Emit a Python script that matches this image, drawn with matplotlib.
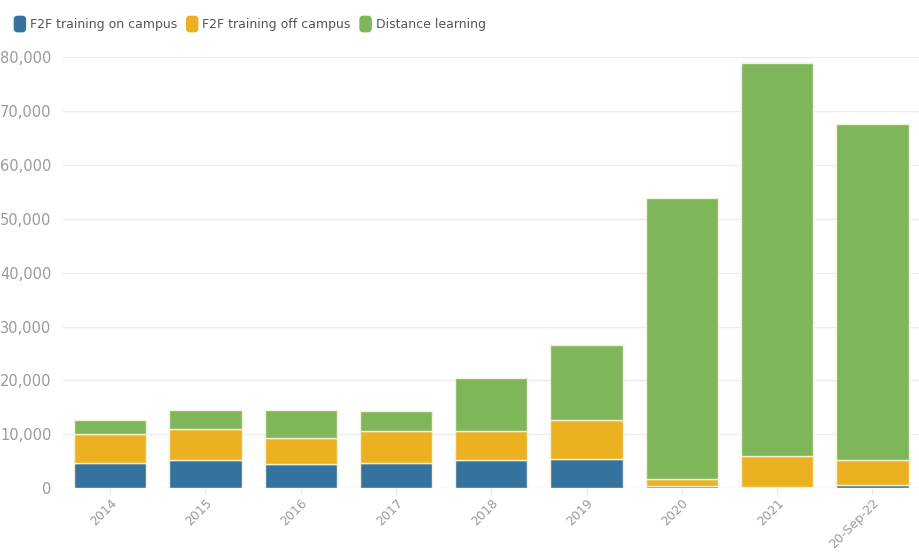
import matplotlib.pyplot as plt
from matplotlib.ticker import FuncFormatter
from matplotlib.patches import FancyBboxPatch
from matplotlib.legend_handler import HandlerPatch
import numpy as np

categories = ['2014', '2015', '2016', '2017', '2018', '2019', '2020', '2021', '20-Sep-22']
on_campus = [4600, 5300, 4500, 4750, 5250, 5450, 450, 200, 600]
off_campus = [5400, 5750, 4900, 5950, 5300, 7300, 1300, 5800, 4700]
distance = [2650, 3400, 5100, 3700, 9950, 13800, 52100, 72900, 62300]

series_names = ['F2F training on campus', 'F2F training off campus', 'Distance learning']
colors = ['#33739e', '#ecb120', '#7fb65a']
grey = '#9a9a9a'


class RoundedHandler(HandlerPatch):
    # rounded square swatch for the legend
    def create_artists(self, legend, orig_handle, xdescent, ydescent, width, height, fontsize, trans):
        p = FancyBboxPatch((-xdescent, -ydescent - 2), width, height + 4,
                           boxstyle='round,pad=0,rounding_size=3',
                           facecolor=orig_handle.patches[0].get_facecolor(),
                           edgecolor='none', transform=trans)
        return [p]


fig = plt.figure(figsize=(9.2, 5.53), dpi=100)
ax = fig.add_axes([0.068, 0.117, 0.932, 0.78])

x = np.arange(len(categories))
bottom = np.zeros(len(categories))
handles = []
for name, vals, col in zip(series_names, [on_campus, off_campus, distance], colors):
    b = ax.bar(x, vals, width=0.76, bottom=bottom, color=col, edgecolor='#f4f0d8',
               linewidth=1.0, label=name, zorder=3)
    handles.append(b)
    bottom += np.array(vals)

ax.set_xlim(-0.5, len(categories) - 0.5)
ax.set_ylim(0, 80000)
ax.set_yticks(np.arange(0, 80001, 10000))
ax.yaxis.set_major_formatter(FuncFormatter(lambda v, p: f'{int(v):,}'))
ax.grid(axis='y', color='#ececec', linewidth=1, zorder=0)
for s in ax.spines.values():
    s.set_visible(False)
ax.tick_params(axis='y', length=0, labelsize=10.5, labelcolor=grey, pad=8)
ax.tick_params(axis='x', length=4, color='#e6e6e6', labelsize=9, labelcolor=grey, pad=2)
ax.set_xticks(x)
ax.set_xticklabels(categories, rotation=45, ha='right', rotation_mode='anchor')

leg = fig.legend(handles=handles, labels=series_names, loc='upper left',
                 bbox_to_anchor=(0.004, 0.985), ncol=3, frameon=False, fontsize=9,
                 handlelength=1.0, handleheight=1.0, handletextpad=0.3,
                 columnspacing=0.7, borderaxespad=0.4,
                 handler_map={type(handles[0]): RoundedHandler()})
for t in leg.get_texts():
    t.set_color('#555555')

fig.savefig('out.png', dpi=100)
